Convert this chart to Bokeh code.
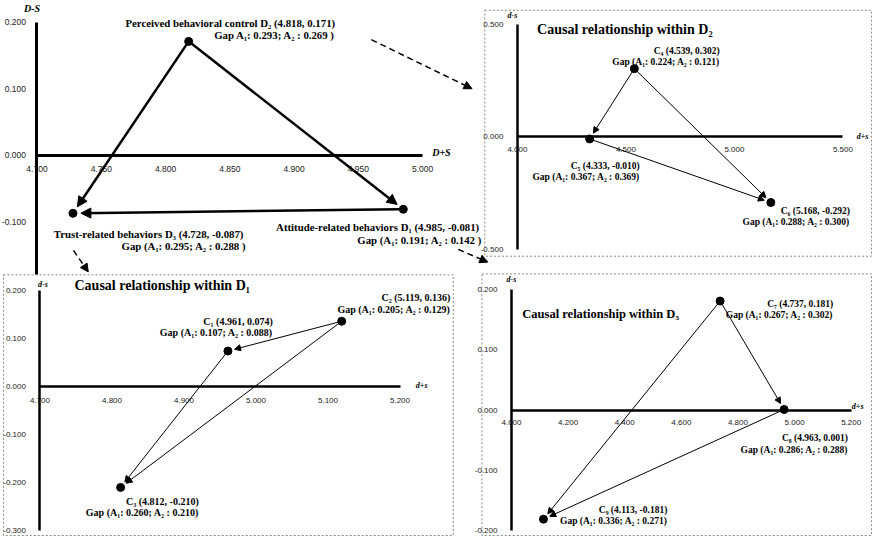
import math
from bokeh.plotting import figure
from bokeh.models import (Range1d, LinearAxis, FixedTicker, PrintfTickFormatter,
                          Arrow, NormalHead, ColumnDataSource)
from bokeh.core.properties import value
from bokeh.embed import file_html
from bokeh.resources import INLINE

# ---------------- data ----------------
dim_names = ["Attitude-related behaviors", "Perceived behavioral control", "Trust-related behaviors"]
dim_codes = ["D\u2081", "D\u2082", "D\u2083"]
dim_x = [4.985, 4.818, 4.728]
dim_y = [-0.081, 0.171, -0.087]
dim_gap1 = [0.191, 0.293, 0.295]
dim_gap2 = [0.142, 0.269, 0.288]
dim_links = [(1, 2), (1, 0), (0, 2)]

d1_codes = ["C\u2081", "C\u2082", "C\u2083"]
d1_x = [4.961, 5.119, 4.812]
d1_y = [0.074, 0.136, -0.210]
d1_gap1 = [0.107, 0.205, 0.260]
d1_gap2 = [0.088, 0.129, 0.210]
d1_links = [(1, 0), (1, 2), (0, 2)]

d2_codes = ["C\u2084", "C\u2085", "C\u2086"]
d2_x = [4.539, 4.333, 5.168]
d2_y = [0.302, -0.010, -0.292]
d2_gap1 = [0.224, 0.367, 0.288]
d2_gap2 = [0.121, 0.369, 0.300]
d2_links = [(0, 1), (0, 2), (1, 2)]

d3_codes = ["C\u2087", "C\u2088", "C\u2089"]
d3_x = [4.737, 4.963, 4.113]
d3_y = [0.181, 0.001, -0.181]
d3_gap1 = [0.267, 0.286, 0.336]
d3_gap2 = [0.302, 0.288, 0.271]
d3_links = [(0, 1), (0, 2), (1, 2)]

main_xticks = [4.70, 4.75, 4.80, 4.85, 4.90, 4.95, 5.00]
main_yticks = [-0.1, 0.0, 0.1, 0.2]
d1_xticks = [4.7, 4.8, 4.9, 5.0, 5.1, 5.2]
d1_yticks = [-0.3, -0.2, -0.1, 0.0, 0.1, 0.2]
d2_xticks = [4.0, 4.5, 5.0, 5.5]
d2_yticks = [-0.5, 0.0, 0.5]
d3_xticks = [4.0, 4.2, 4.4, 4.6, 4.8, 5.0, 5.2]
d3_yticks = [-0.2, -0.1, 0.0, 0.1, 0.2]

# ---------------- layout ----------------
W, H = 873, 536
SX, SY = 872 / 884, 535 / 546
RX0, RY0 = 4, 3
SERIF = value("Liberation Serif")


def xr(v0, r0, k):
    f0 = (r0 - RX0) * SX
    kf = k * SX
    return Range1d(v0 - f0 / kf, v0 + (W - f0) / kf)


def yr(v0, r0, k):
    f0 = (r0 - RY0) * SY
    kf = k * SY
    return Range1d(v0 - (H - f0) / kf, v0 + f0 / kf)


cal = {
    "default": ((4.7, 41, 1303), (0.0, 161, 680)),
    "d1": ((4.7, 44, 730), (0.0, 397, 490)),
    "d2": ((4.0, 528, 220), (0.0, 142, 230)),
    "d3": ((4.0, 522, 287), (0.0, 421, 615)),
}

p = figure(width=W, height=H, output_backend="svg", toolbar_location=None,
           x_range=xr(*cal["default"][0]), y_range=yr(*cal["default"][1]),
           x_axis_type=None, y_axis_type=None, min_border=0,
           outline_line_color=None, background_fill_color="white",
           border_fill_color="white")
for n in ("d1", "d2", "d3"):
    p.extra_x_ranges[n] = xr(*cal[n][0])
    p.extra_y_ranges[n] = yr(*cal[n][1])
p.extra_x_ranges["px"] = Range1d(RX0, RX0 + W / SX)
p.extra_y_ranges["px"] = Range1d(RY0 + H / SY, RY0)
PX = dict(x_range_name="px", y_range_name="px")


def rn(n):
    return dict(x_range_name=n, y_range_name=n)


def add_axes(n, xb, yb, xt, yt, lw, fs, xso, yso):
    common = dict(axis_line_width=lw,
                  axis_line_color="black", major_tick_line_color=None,
                  minor_tick_line_color=None, major_label_text_font_size=fs,
                  major_label_text_font="Liberation Sans", major_label_text_color="#222222")
    xa = LinearAxis(fixed_location=0.0, bounds=xb, ticker=FixedTicker(ticks=xt),
                    formatter=PrintfTickFormatter(format="%.3f"),
                    major_label_standoff=xso, **common, **rn(n))
    ya = LinearAxis(fixed_location=xb[0], bounds=yb, ticker=FixedTicker(ticks=yt),
                    formatter=PrintfTickFormatter(format="%.3f"),
                    major_label_standoff=yso, **common, **rn(n))
    p.add_layout(xa, "below")
    p.add_layout(ya, "left")


# inset boxes (ref px)
boxes_l = [495, 7, 492]
boxes_r = [887, 463, 887]
boxes_t = [13, 283, 282]
boxes_b = [264, 549, 549]
p.quad(left=boxes_l, right=boxes_r, top=boxes_t, bottom=boxes_b, fill_color=None,
       line_color="#8a8a8a", line_dash="2 2", line_width=1, **PX)

add_axes("default", (4.7, 5.0), (-0.179, 0.2), main_xticks, main_yticks, 3, "8.5px", 5, 5)
add_axes("d1", (4.7, 5.2), (-0.3, 0.2), d1_xticks, d1_yticks, 2.5, "8px", 5, 8)
add_axes("d2", (4.0, 5.5), (-0.5, 0.5), d2_xticks, d2_yticks, 2.5, "8px", 4, 8)
add_axes("d3", (4.0, 5.2), (-0.2, 0.2), d3_xticks, d3_yticks, 2.5, "8px", 4, 8)


def add_links(n, xs, ys, links, lw, hs, s0, s1):
    kx = cal[n][0][2]
    ky = cal[n][1][2]
    cols = dict(xs=[], ys=[], xe=[], ye=[])
    for a, b in links:
        dx, dy = xs[b] - xs[a], ys[b] - ys[a]
        L = math.hypot(dx * kx, dy * ky)
        cols["xs"].append(xs[a] + dx * s0 / L)
        cols["ys"].append(ys[a] + dy * s0 / L)
        cols["xe"].append(xs[b] - dx * s1 / L)
        cols["ye"].append(ys[b] - dy * s1 / L)
    src = ColumnDataSource(cols)
    p.add_layout(Arrow(end=NormalHead(size=hs, fill_color="black", line_color="black", line_width=1),
                       x_start="xs", y_start="ys", x_end="xe", y_end="ye", source=src,
                       line_width=lw, line_color="black", **rn(n)))
    p.scatter(xs, ys, size=8, fill_color="black", line_color="black", **rn(n))


add_links("default", dim_x, dim_y, dim_links, 2.5, 10, 4, 8)
add_links("d1", d1_x, d1_y, d1_links, 1, 6, 3, 7)
add_links("d2", d2_x, d2_y, d2_links, 1, 6, 3, 7)
add_links("d3", d3_x, d3_y, d3_links, 1, 6, 3, 7)

# dashed connectors between panels (ref px)
con = ColumnDataSource(dict(xs=[380, 78, 468], ys=[43, 258, 257],
                            xe=[482, 93, 498], ye=[93, 280, 270]))
p.add_layout(Arrow(end=NormalHead(size=8, fill_color="black", line_color="black", line_width=1),
                   x_start="xs", y_start="ys", x_end="xe", y_end="ye", source=con,
                   line_width=1.5, line_color="black", line_dash="6 4", **PX))


def add_labels(codes, xs, ys, g1, g2, names, gap_open, rx, y1, y2, fs):
    t1, t2 = [], []
    for i in range(len(codes)):
        head = (names[i] + "  ") if names else ""
        t1.append(f"{head}{codes[i]} ({xs[i]:.3f}, {ys[i]:.3f})")
        close = " )" if names else ")"
        t2.append(f"Gap {gap_open[i]}A\u2081: {g1[i]:.3f}; A\u2082 : {g2[i]:.3f}{close}")
    for tt, yy in ((t1, y1), (t2, y2)):
        p.text(x=rx, y=yy, text=tt, text_align="right", text_baseline="middle",
               text_font=SERIF, text_font_style="bold", text_font_size=fs,
               text_color="black", **PX)


add_labels(dim_codes, dim_x, dim_y, dim_gap1, dim_gap2, dim_names, ["(", " ", "("],
           [492, 346, 253], [234, 26, 241], [247, 38, 254], "10.8px")
add_labels(d1_codes, d1_x, d1_y, d1_gap1, d1_gap2, None, ["("] * 3,
           [280, 460, 205], [331, 306, 514], [342, 318, 526], "10px")
add_labels(d2_codes, d2_x, d2_y, d2_gap1, d2_gap2, None, ["("] * 3,
           [733, 652, 865], [55, 172, 218], [66, 183, 229], "9.5px")
add_labels(d3_codes, d3_x, d3_y, d3_gap1, d3_gap2, None, ["("] * 3,
           [848, 863, 680], [313, 450, 523], [324, 462, 534], "9.5px")

# titles
titles = ["Causal relationship within D\u2082", "Causal relationship within D\u2081",
          "Causal relationship within D\u2083"]
p.text(x=[548, 79, 533], y=[33, 294, 323], text=titles, text_align="left",
       text_baseline="middle", text_font=SERIF, text_font_style="bold",
       text_font_size=["14px", "14px", "12.5px"], text_color="black", **PX)

# axis names
p.text(x=[36, 451], y=[11, 158], text=["D-S", "D+S"], text_align="center",
       text_baseline="middle", text_font=SERIF, text_font_style="bold italic",
       text_font_size="10px", text_color="black", **PX)
p.text(x=[523, 878, 47, 431, 522, 873], y=[18, 142, 293, 396, 288, 417],
       text=["d-s", "d+s", "d-s", "d+s", "d-s", "d+s"], text_align="center",
       text_baseline="middle", text_font=SERIF, text_font_style="bold italic",
       text_font_size="8px", text_color="black", **PX)

open("out.html", "w").write(file_html(p, INLINE))
